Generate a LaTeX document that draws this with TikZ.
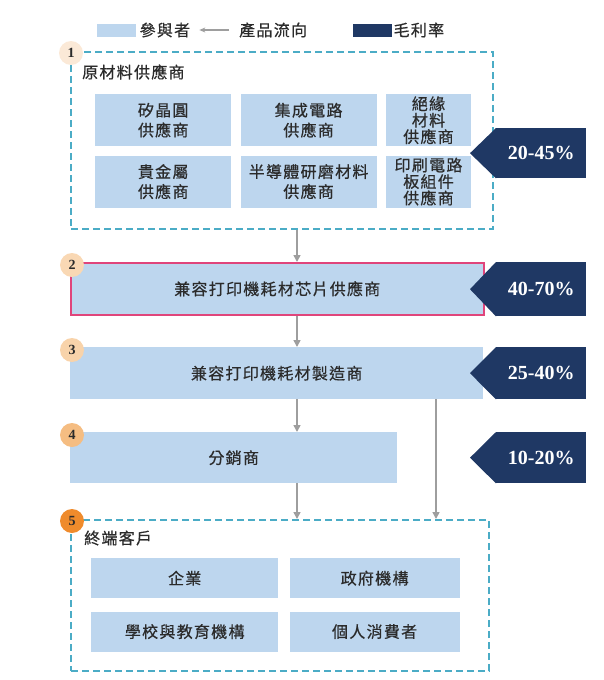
\documentclass[tikz,border=0pt]{standalone}
\usepackage{fontspec}
\setmainfont{Noto Sans CJK TC}[LetterSpace=8, FakeBold=0.6]
\newfontfamily\numfont{Liberation Serif}
\usetikzlibrary{arrows.meta,positioning}
\definecolor{partblue}{HTML}{BDD6EE}
\definecolor{marginnavy}{HTML}{1F3864}
\definecolor{dashcyan}{HTML}{4BACC6}
\definecolor{chippink}{HTML}{E0457B}
\definecolor{flowgray}{HTML}{9E9E9E}
\definecolor{textgray}{HTML}{2B2B2B}
\definecolor{stepone}{HTML}{FBE9D7}
\definecolor{steptwo}{HTML}{F9D8B4}
\definecolor{stepthree}{HTML}{F8D3AA}
\definecolor{stepfour}{HTML}{F5BD82}
\definecolor{stepfive}{HTML}{EF8B2C}

\begin{document}
\begin{tikzpicture}[x=1pt, y=-1pt,
  part/.style={fill=partblue, inner sep=0pt, align=center, text=textgray,
               font=\fontsize{16}{20}\selectfont},
  stage/.style={part, anchor=north west, minimum height=52pt},
  group/.style={draw=dashcyan, dash pattern=on 7pt off 4pt, line width=2pt,
                anchor=north west, inner sep=0pt},
  caption/.style={anchor=west, inner sep=0pt, text=textgray,
                  font=\fontsize{16}{18}\selectfont},
  tag/.style={fill=marginnavy, text=white, anchor=north west, minimum width=90pt,
              inner sep=0pt, font=\numfont\bfseries\fontsize{20}{22}\selectfont},
  stepnum/.style={circle, minimum size=24pt, inner sep=0pt, text=textgray,
                  font=\numfont\bfseries\fontsize{14}{16}\selectfont},
  legendkey/.style={anchor=west, minimum width=39pt, minimum height=13pt, inner sep=0pt},
  flow/.style={draw=flowgray, line width=1.6pt, -{Triangle[length=7pt,width=7pt]}},
]
  \useasboundingbox (0,0) rectangle (603,680);

  % legend
  \node[legendkey, fill=partblue] (keypart) at (97,30) {};
  \node[caption, right=3pt of keypart] (keyparttext) {參與者};
  \node[caption] (keyflow) at (239,30) {產品流向};
  \draw[draw=flowgray, line width=1.2pt, -{Stealth[length=6pt,width=5pt]},
        shorten <=10pt, shorten >=9pt] (keyflow.west) -- (keyparttext.east);
  \node[legendkey, fill=marginnavy] (keymargin) at (353,30) {};
  \node[caption, right=1pt of keymargin] (keymargintext) {毛利率};

  % 1: raw materials
  \node[group, minimum width=422pt, minimum height=177pt] (raw) at (70,51) {};
  \node[caption] (rawlabel) at (82,72) {原材料供應商};
  \node[part, anchor=north west, minimum width=136pt, minimum height=52pt] (wafer) at (95,94) {矽晶圓\\供應商};
  \node[part, right=9pt of wafer, minimum width=136pt, minimum height=52pt] (ic) {集成電路\\供應商};
  \node[part, right=9pt of ic, minimum width=85pt, minimum height=52pt,
        font=\fontsize{16}{16.5}\selectfont] (insul) {絕緣\\材料\\供應商};
  \node[part, below=9pt of wafer, minimum width=136pt, minimum height=52pt] (metal) {貴金屬\\供應商};
  \node[part, below=9pt of ic, minimum width=136pt, minimum height=52pt] (polish) {半導體研磨材料\\供應商};
  \node[part, below=9pt of insul, minimum width=85pt, minimum height=52pt,
        font=\fontsize{16}{16.5}\selectfont] (pcb) {印刷電路\\板組件\\供應商};

  % 2-4: chain
  \node[stage, minimum width=413pt, draw=chippink, line width=1.5pt] (chip) at (70,262) {兼容打印機耗材芯片供應商};
  \node[stage, minimum width=413pt] (maker) at (70,347) {兼容打印機耗材製造商};
  \node[stage, minimum width=327pt, minimum height=51pt] (dist) at (70,432) {分銷商};

  % 5: end customers
  \node[group, minimum width=418pt, minimum height=151pt] (enduser) at (70,519) {};
  \node[caption] (enduserlabel) at (84,538) {終端客戶};
  \node[part, anchor=north west, minimum width=187pt, minimum height=40pt] (corp) at (91,558) {企業};
  \node[part, right=11pt of corp, minimum width=170pt, minimum height=40pt] (gov) {政府機構};
  \node[part, below=13pt of corp, minimum width=187pt, minimum height=40pt] (school) {學校與教育機構};
  \node[part, below=13pt of gov, minimum width=170pt, minimum height=40pt] (consumer) {個人消費者};

  % gross margins
  \node[tag, minimum height=50pt] (margin1) at (496,128) {20-45\%};
  \node[tag, minimum height=54pt] (margin2) at (496,262) {40-70\%};
  \node[tag, minimum height=52pt] (margin3) at (496,347) {25-40\%};
  \node[tag, minimum height=51pt] (margin4) at (496,432) {10-20\%};
  \foreach \m in {margin1,margin2,margin3,margin4}
    \fill[marginnavy] (\m.north west) -- ([xshift=-26pt]\m.west) -- (\m.south west) -- cycle;

  % product flow
  \coordinate (trunk) at (297,0);
  \coordinate (direct) at (436,0);
  \draw[flow] (raw.south -| trunk) -- (chip.north -| trunk);
  \draw[flow] (chip.south -| trunk) -- (maker.north -| trunk);
  \draw[flow] (maker.south -| trunk) -- (dist.north -| trunk);
  \draw[flow] (dist.south -| trunk) -- (enduser.north -| trunk);
  \draw[flow] (maker.south -| direct) -- (enduser.north -| direct);

  % step numbers
  \node[stepnum, fill=stepone] (step1) at (71,53) {1};
  \node[stepnum, fill=steptwo] (step2) at (72,265) {2};
  \node[stepnum, fill=stepthree] (step3) at (72,350) {3};
  \node[stepnum, fill=stepfour] (step4) at (72,435) {4};
  \node[stepnum, fill=stepfive] (step5) at (72,521) {5};
\end{tikzpicture}
\end{document}
